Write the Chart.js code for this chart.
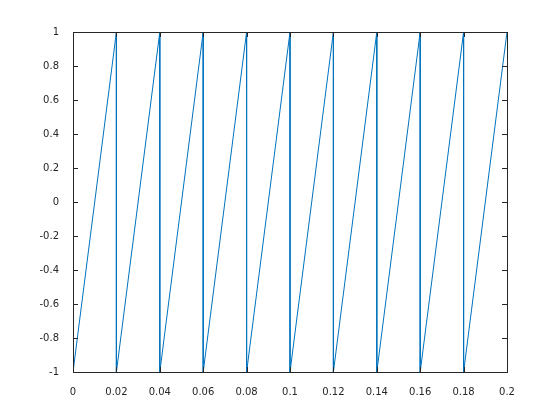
<!DOCTYPE html>
<html>
<head>
<meta charset="utf-8">
<script src="https://cdn.jsdelivr.net/npm/chart.js@4/dist/chart.umd.min.js"></script>
<style>
  html, body { margin: 0; padding: 0; background: #fff; }
  #wrap { width: 560px; height: 420px; }
</style>
</head>
<body>
<div id="wrap"><canvas id="saw" width="560" height="420"></canvas></div>
<script>
  // sawtooth vertices (rise over each 0.02 period, then drop)
  const tValues = [0, 0.02, 0.02, 0.04, 0.04, 0.06, 0.06, 0.08, 0.08, 0.10, 0.10,
                   0.12, 0.12, 0.14, 0.14, 0.16, 0.16, 0.18, 0.18, 0.20];
  const yValues = [-1, 1, -1, 1, -1, 1, -1, 1, -1, 1, -1,
                   1, -1, 1, -1, 1, -1, 1, -1, 1];

  const xTicks = [0, 0.02, 0.04, 0.06, 0.08, 0.1, 0.12, 0.14, 0.16, 0.18, 0.2];
  const xTickLabels = ['0', '0.02', '0.04', '0.06', '0.08', '0.1', '0.12', '0.14', '0.16', '0.18', '0.2'];
  const yTicks = [-1, -0.8, -0.6, -0.4, -0.2, 0, 0.2, 0.4, 0.6, 0.8, 1];
  const yTickLabels = ['-1', '-0.8', '-0.6', '-0.4', '-0.2', '0', '0.2', '0.4', '0.6', '0.8', '1'];

  const axisColor = '#262626';

  // box around the axes with inward ticks on all four sides
  const boxTicks = {
    id: 'boxTicks',
    afterDraw(chart) {
      const { ctx, chartArea: a, scales } = chart;
      ctx.save();
      ctx.strokeStyle = axisColor;
      ctx.lineWidth = 1;
      ctx.beginPath();
      xTicks.forEach(v => {
        const px = Math.round(scales.x.getPixelForValue(v)) + 0.5;
        ctx.moveTo(px, a.bottom); ctx.lineTo(px, a.bottom - 5);
        ctx.moveTo(px, a.top); ctx.lineTo(px, a.top + 5);
      });
      yTicks.forEach(v => {
        const py = Math.round(scales.y.getPixelForValue(v)) + 0.5;
        ctx.moveTo(a.left, py); ctx.lineTo(a.left + 5, py);
        ctx.moveTo(a.right, py); ctx.lineTo(a.right - 5, py);
      });
      ctx.stroke();
      ctx.strokeRect(Math.round(a.left) + 0.5, Math.round(a.top) + 0.5,
                     Math.round(a.right - a.left), Math.round(a.bottom - a.top));
      ctx.restore();
    }
  };

  new Chart(document.getElementById('saw'), {
    type: 'scatter',
    data: {
      datasets: [{
        data: tValues.map((t, i) => ({ x: t, y: yValues[i] })),
        showLine: true,
        borderColor: '#0072BD',
        borderWidth: 1,
        pointRadius: 0,
        tension: 0
      }]
    },
    options: {
      responsive: false,
      animation: false,
      layout: { padding: { top: 32, right: 53, left: 0, bottom: 0 } },
      plugins: { legend: { display: false }, tooltip: { enabled: false } },
      scales: {
        x: {
          type: 'linear',
          min: 0, max: 0.2,
          afterBuildTicks: s => { s.ticks = xTicks.map(v => ({ value: v })); },
          afterFit: s => { s.height = 48; },
          grid: { display: false },
          border: { display: false },
          ticks: {
            autoSkip: false,
            maxRotation: 0,
            padding: 6,
            color: axisColor,
            font: { family: 'DejaVu Sans', size: 10 },
            callback: (v, i) => xTickLabels[i]
          }
        },
        y: {
          type: 'linear',
          min: -1, max: 1,
          afterBuildTicks: s => { s.ticks = yTicks.map(v => ({ value: v })); },
          afterFit: s => { s.width = 73; },
          grid: { display: false },
          border: { display: false },
          ticks: {
            autoSkip: false,
            padding: 6,
            color: axisColor,
            font: { family: 'DejaVu Sans', size: 10 },
            callback: (v, i) => yTickLabels[i]
          }
        }
      }
    },
    plugins: [boxTicks]
  });
</script>
</body>
</html>
